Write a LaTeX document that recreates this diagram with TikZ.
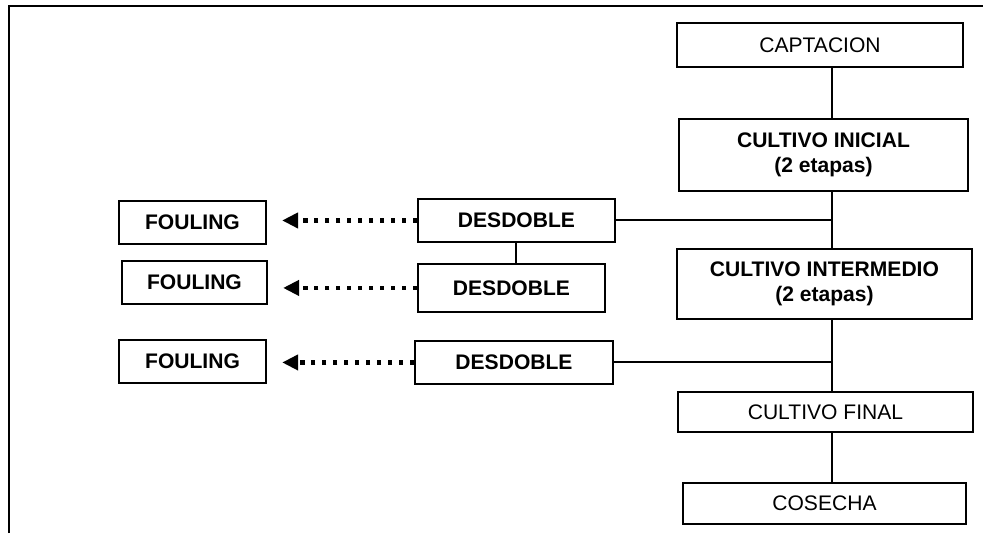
\documentclass[tikz,border=0pt]{standalone}
\usepackage{fontspec}
\setmainfont{Liberation Sans}
\usepackage{tikz}
\usetikzlibrary{arrows.meta,positioning}

\begin{document}
\begin{tikzpicture}[font=\fontsize{15.8}{18.75}\selectfont]
\tikzstyle{stage} = [rectangle, draw, line width=1.7pt, align=center, inner sep=0pt, minimum width=216pt, minimum height=30pt]
\tikzstyle{bstage} = [stage, font=\fontsize{15.8}{18.75}\selectfont\bfseries]
\tikzstyle{split} = [bstage, minimum width=148pt, minimum height=32.25pt]
\tikzstyle{waste} = [bstage, minimum width=110.25pt, minimum height=32.25pt]
\tikzstyle{link} = [line width=1.5pt]
\tikzstyle{dotarrow} = [line width=3.6pt, dash pattern=on 3.2pt off 5pt, shorten >=11.25pt, -{Triangle[length=12pt,width=11.25pt]}]

\useasboundingbox (0,0) rectangle (737.25pt,-399.75pt);
% frame
\draw[line width=1.8pt] (6.75pt,-399.75pt) -- (6.75pt,-4.5pt) -- (737.25pt,-4.5pt);

\node [stage, minimum width=214.5pt, minimum height=33pt] (capt) at (615pt,-33.75pt) {CAPTACION};
\node [bstage, node distance=82.5pt, below of=capt, xshift=2.6pt, minimum width=216.75pt, minimum height=54pt] (inicial) {CULTIVO INICIAL\\(2 etapas)};
\node [bstage, node distance=96.75pt, below of=inicial, xshift=0.75pt, minimum width=221.25pt, minimum height=52.5pt] (intermedio) {CULTIVO INTERMEDIO\\(2 etapas)};
\node [stage, node distance=96pt, below of=intermedio, xshift=0.75pt, minimum width=221.25pt] (final) {CULTIVO FINAL};
\node [stage, node distance=68.6pt, below of=final, xshift=-0.75pt, minimum width=212.25pt, minimum height=30.75pt] (cosecha) {COSECHA};

\node [split, node distance=230.25pt, left of=inicial, yshift=-49.1pt, minimum width=147.75pt] (d1) {DESDOBLE};
\node [split, node distance=50.6pt, below of=d1, xshift=-3.75pt, minimum width=140.25pt, minimum height=36pt] (d2) {DESDOBLE};
\node [split, node distance=55.9pt, below of=d2, xshift=1.9pt, minimum width=148.5pt] (d3) {DESDOBLE};

\node [waste, node distance=243pt, left of=d1, yshift=-1.5pt] (f1) {FOULING};
\node [waste, node distance=237.75pt, left of=d2, yshift=4.1pt, minimum width=108.75pt] (f2) {FOULING};
\node [waste, node distance=241.1pt, left of=d3, yshift=0.75pt] (f3) {FOULING};

\coordinate (spine) at (624pt,0);
\draw [link] (capt.south -| spine) -- (inicial.north -| spine);
\draw [link] (inicial.south -| spine) -- (intermedio.north -| spine);
\draw [link] (intermedio.south -| spine) -- (final.north -| spine);
\draw [link] (final.south -| spine) -- (cosecha.north -| spine);
\draw [link] (d1.east) -- (d1.east -| spine);
\draw [link] (d3.east) -- (d3.east -| spine);
\draw [link] (d1.south) -- (d1.south |- d2.north);

\foreach \i in {1,2,3}
  \draw [dotarrow] (d\i.west) -- (f\i.east |- d\i.west);

\end{tikzpicture}
\end{document}
